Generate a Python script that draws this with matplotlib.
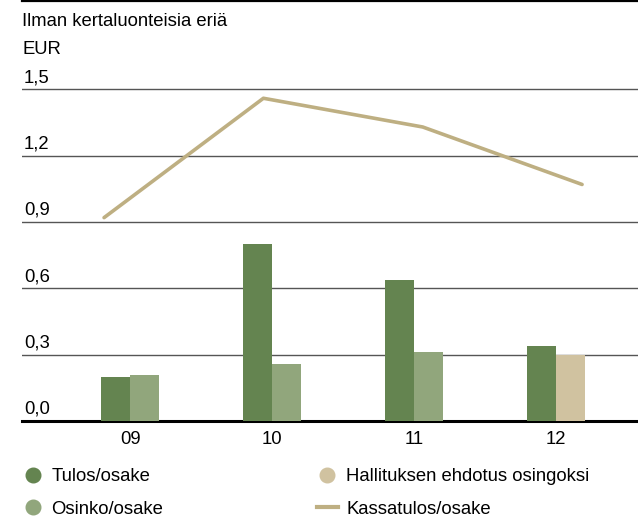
import matplotlib
matplotlib.use('Agg')
import matplotlib.pyplot as plt
from matplotlib.lines import Line2D

plt.rcParams['font.family'] = ['Liberation Sans', 'DejaVu Sans']

# data
years = ['09', '10', '11', '12']
tulos = [0.20, 0.80, 0.64, 0.34]          # Tulos/osake
osinko = [0.21, 0.26, 0.31, None]        # Osinko/osake
ehdotus = [None, None, None, 0.30]       # Hallituksen ehdotus osingoksi
kassatulos = [0.92, 1.46, 1.33, 1.07]    # Kassatulos/osake
yticks = [0.0, 0.3, 0.6, 0.9, 1.2, 1.5]

c_tulos = '#648450'
c_osinko = '#91a67c'
c_ehdotus = '#d0c2a0'
c_line = '#beaf82'
fs = 13.3

W, H = 638, 518
fig = plt.figure(figsize=(W / 100, H / 100), dpi=100)
ax = fig.add_axes([22 / W, 97 / H, 616 / W, 420 / H])

x = list(range(len(years)))
bw = 0.204
ax.bar([i - bw / 2 for i in x], tulos, width=bw, color=c_tulos, zorder=3)
ax.bar([i + bw / 2 for i, v in zip(x, osinko) if v is not None],
       [v for v in osinko if v is not None], width=bw, color=c_osinko, zorder=3)
ax.bar([i + bw / 2 for i, v in zip(x, ehdotus) if v is not None],
       [v for v in ehdotus if v is not None], width=bw, color=c_ehdotus, zorder=3)

ax.set_xlim(-0.761, 3.577)
ax.set_ylim(0, 1.9)
ax.set_xticks(x)
ax.set_xticklabels(years, fontsize=fs)
ax.tick_params(axis='x', length=0, pad=7.5)
ax.set_yticks([])

for v in yticks[1:]:
    ax.axhline(v, color='#555555', lw=1.0, zorder=1)
for v in yticks:
    ax.annotate(f'{v:.1f}'.replace('.', ','), xy=(0.003, v), xycoords=ax.get_yaxis_transform(),
                xytext=(0, 2.2), textcoords='offset points', ha='left', va='bottom', fontsize=fs)

for s in ['left', 'right']:
    ax.spines[s].set_visible(False)
ax.spines['bottom'].set_linewidth(2.2)
ax.spines['top'].set_linewidth(1.6)

# line uses its own horizontal spacing
ax2 = ax.twiny()
ax2.plot(x, kassatulos, color=c_line, lw=2.6, solid_capstyle='round', zorder=4)
ax2.set_xlim(-0.515, 3.351)
ax2.set_ylim(0, 1.9)
ax2.axis('off')

fig.text(22 / W, 1 - 22 / H, 'Ilman kertaluonteisia eriä', fontsize=fs, va='center')
fig.text(22 / W, 1 - 49 / H, 'EUR', fontsize=fs, va='center')

handles = [
    Line2D([], [], marker='o', ls='none', color=c_tulos, markersize=10.5),
    Line2D([], [], marker='o', ls='none', color=c_osinko, markersize=10.5),
    Line2D([], [], marker='o', ls='none', color=c_ehdotus, markersize=10.5),
    Line2D([], [], color=c_line, lw=3),
]
labels = ['Tulos/osake', 'Osinko/osake', 'Hallituksen ehdotus osingoksi', 'Kassatulos/osake']
fig.legend(handles, labels, ncol=2, loc='upper left', bbox_to_anchor=(22 / W, 1 - 468 / H),
           frameon=False, fontsize=fs, handlelength=1.15, handletextpad=0.45,
           columnspacing=8.3, labelspacing=0.85, borderpad=0, borderaxespad=0)

fig.savefig('out.png', dpi=100)
